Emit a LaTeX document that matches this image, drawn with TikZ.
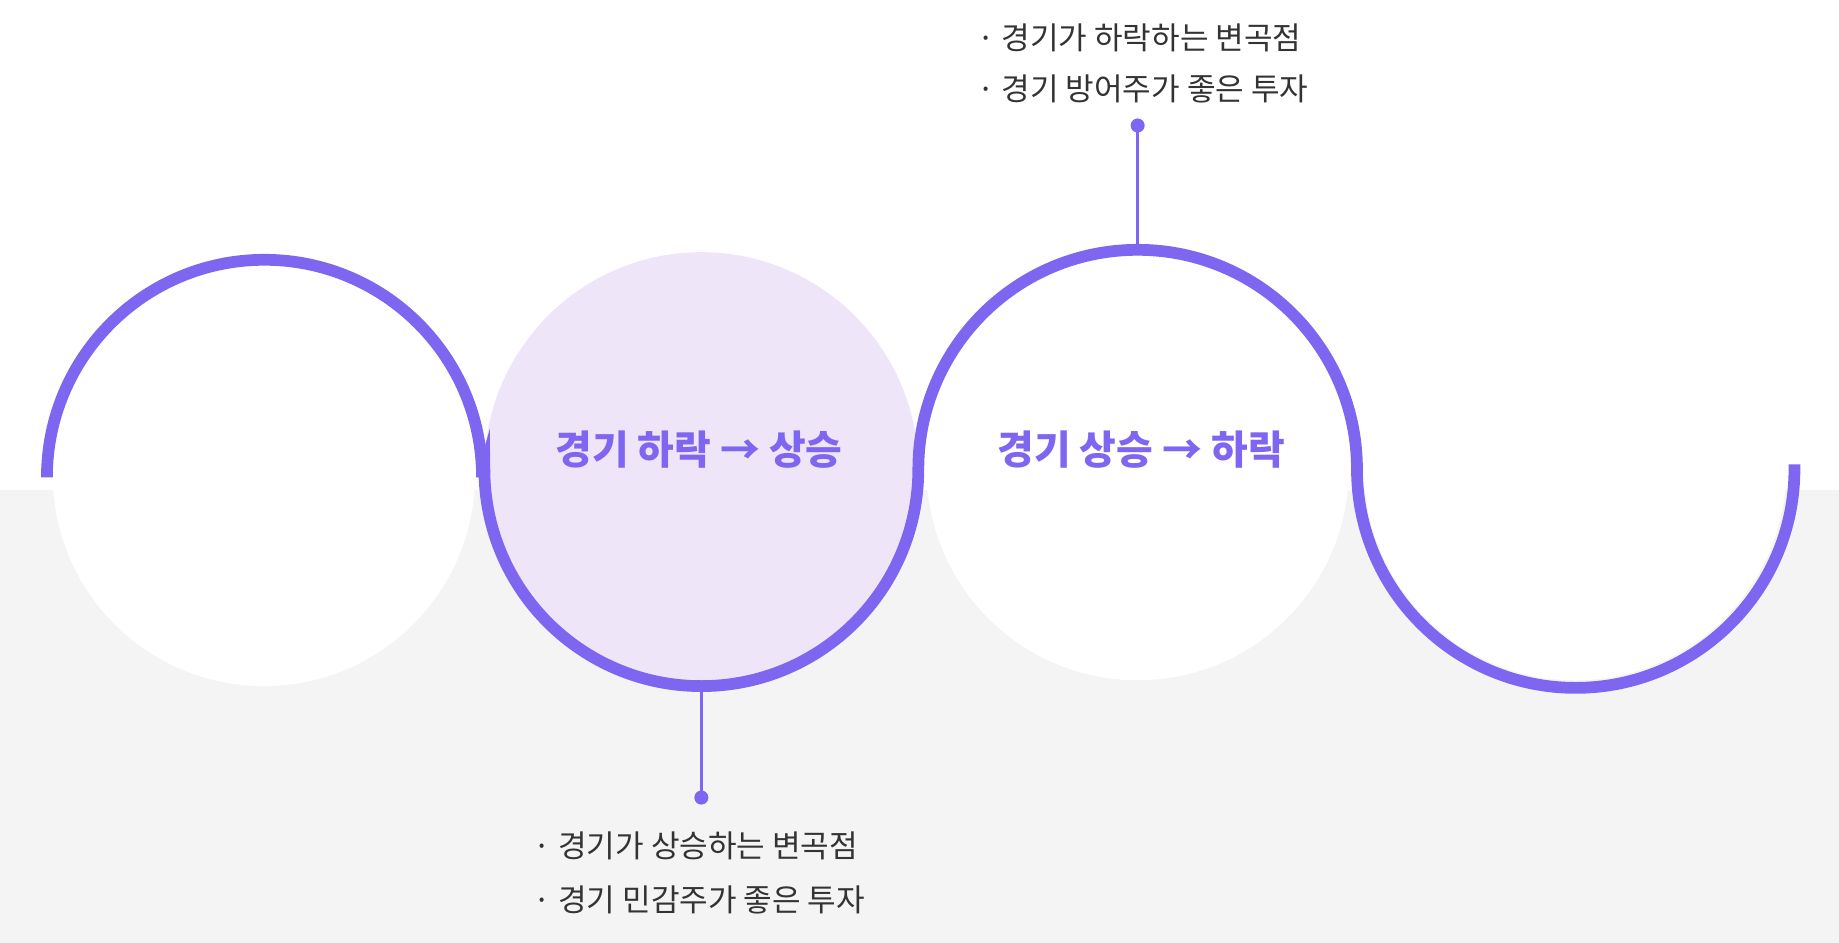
\documentclass[tikz,border=0pt]{standalone}
\usepackage{fontspec}
\newfontfamily\kr{Noto Sans CJK KR}
\definecolor{pp}{HTML}{7F66F0}
\definecolor{lav}{HTML}{EFE5F9}
\definecolor{gr}{HTML}{F4F4F4}
\begin{document}
\begin{tikzpicture}[x=1pt,y=-1pt,
  wave/.style={draw=pp,line width=10pt},
  lbl/.style={font=\kr\fontsize{26.5}{30}\selectfont,text=black!80,anchor=west,inner sep=0},
  ttl/.style={font=\kr\bfseries\fontsize{34}{38}\selectfont,text=pp,inner sep=0}]
\useasboundingbox (0,0) rectangle (1568,804);
\fill[gr] (0,418) rectangle (1568,804);
\fill[white] (225,405) circle (180);
\fill[lav] (598,400) circle (185);
\fill[white] (970,400) circle (180);
\fill[white] (1343,400) circle (180);
\draw[wave] (40,407) arc[start angle=180,end angle=360,radius=185.5];
\draw[wave] (411,407) -- (413,400) arc[start angle=180,end angle=0,radius=185];
\draw[wave] (783,400) arc[start angle=180,end angle=360,radius=187];
\draw[wave] (1157,400) arc[start angle=180,end angle=0,radius=186.5] -- (1530,396);
\node[ttl] (t1) at (596,383) {경기 하락 → 상승};
\node[ttl] (t2) at (973,383) {경기 상승 → 하락};
\coordinate (c3) at (970,215);
\coordinate (c2) at (598,585);
\fill[pp] (970,107) circle (6) coordinate (d1);
\fill[pp] (598,680) circle (6) coordinate (d2);
\draw[pp,line width=2pt] (d1) -- (c3);
\draw[pp,line width=2pt] (c2) -- (d2);
\node[lbl] (a1) at (833,32) {· 경기가 하락하는 변곡점};
\node[lbl] (a2) at (833,76) {· 경기 방어주가 좋은 투자};
\node[lbl] (b1) at (455,721) {· 경기가 상승하는 변곡점};
\node[lbl] (b2) at (455,767) {· 경기 민감주가 좋은 투자};
\end{tikzpicture}
\end{document}
